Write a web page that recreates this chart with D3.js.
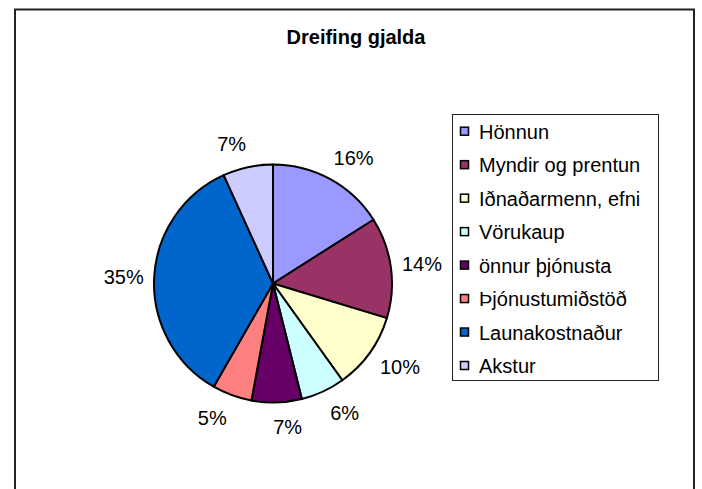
<!DOCTYPE html>
<html>
<head>
<meta charset="utf-8">
<script src="https://cdn.jsdelivr.net/npm/d3@7"></script>
<style>
  body { margin: 0; background: #fff; }
  text { font-family: Arial, "Liberation Sans", sans-serif; }
</style>
</head>
<body>
<script>
// chart data (shares in %)
const categories = ["Hönnun", "Myndir og prentun", "Iðnaðarmenn, efni", "Vörukaup",
                    "önnur þjónusta", "Þjónustumiðstöð", "Launakostnaður", "Akstur"];
const shares = [16.0, 13.7, 10.4, 6.0, 6.8, 5.4, 34.9, 6.8];
const sliceColors = ["#9999FF", "#993366", "#FFFFCC", "#CCFFFF",
                     "#660066", "#FF8080", "#0066CC", "#CCCCFF"];
const title = "Dreifing gjalda";

function init() {
  let svg = d3.select("body").append("svg")
    .attr("width", 702)
    .attr("height", 489);

  // outer chart frame (bottom runs off the picture)
  svg.append("path")
    .attr("d", "M15,495 L15,9.5 L694,9.5 L694,495")
    .attr("fill", "none")
    .attr("stroke", "#222")
    .attr("stroke-width", 2);

  svg.append("text")
    .attr("x", 356)
    .attr("y", 44)
    .attr("text-anchor", "middle")
    .style("font-size", "20px")
    .style("font-weight", "bold")
    .text(title);

  let data = categories.map((c, i) => ({ name: c, value: shares[i], color: sliceColors[i] }));
  let total = d3.sum(shares);

  let pie = d3.pie().sort(null).value(d => d.value);
  let arcs = pie(data);
  let radius = 119;
  let arc = d3.arc().innerRadius(0).outerRadius(radius);

  let g = svg.append("g").attr("transform", "translate(273,283.5)");

  g.selectAll("path")
    .data(arcs)
    .enter()
      .append("path")
        .attr("d", arc)
        .attr("fill", d => d.data.color)
        .attr("stroke", "#000")
        .attr("stroke-width", 2)
        .attr("stroke-linejoin", "round");

  // labels sit outside the rim, pushed sideways a bit like excel does
  let labelPos = d => {
    let a = (d.startAngle + d.endAngle) / 2;
    let s = Math.sin(a), c = Math.cos(a);
    let x = s * 149 + Math.sign(s) * 10 * Math.abs(c);
    let y = -c * 143;
    return [x, y];
  };

  g.selectAll("text")
    .data(arcs)
    .enter()
      .append("text")
        .attr("transform", d => "translate(" + labelPos(d) + ")")
        .attr("text-anchor", "middle")
        .attr("dy", "0.36em")
        .style("font-size", "20px")
        .text(d => Math.round(d.data.value / total * 100) + "%");

  // legend
  let legend = svg.append("g");
  legend.append("rect")
    .attr("x", 452.5)
    .attr("y", 114.5)
    .attr("width", 206)
    .attr("height", 266)
    .attr("fill", "#fff")
    .attr("stroke", "#222")
    .attr("stroke-width", 1);

  let yScale = d3.scalePoint()
    .domain(categories)
    .range([131.7, 366])
    ;

  let items = legend.selectAll("g.item")
    .data(data)
    .enter()
      .append("g")
        .attr("class", "item")
        .attr("transform", d => "translate(0," + yScale(d.name) + ")");

  items.append("rect")
    .attr("x", 460.5)
    .attr("y", -4.5)
    .attr("width", 8)
    .attr("height", 8)
    .attr("fill", d => d.color)
    .attr("stroke", "#000")
    .attr("stroke-width", 1.5);

  items.append("text")
    .attr("x", 479)
    .attr("dy", "0.36em")
    .style("font-size", "20px")
    .text(d => d.name);
}

init();
</script>
</body>
</html>
